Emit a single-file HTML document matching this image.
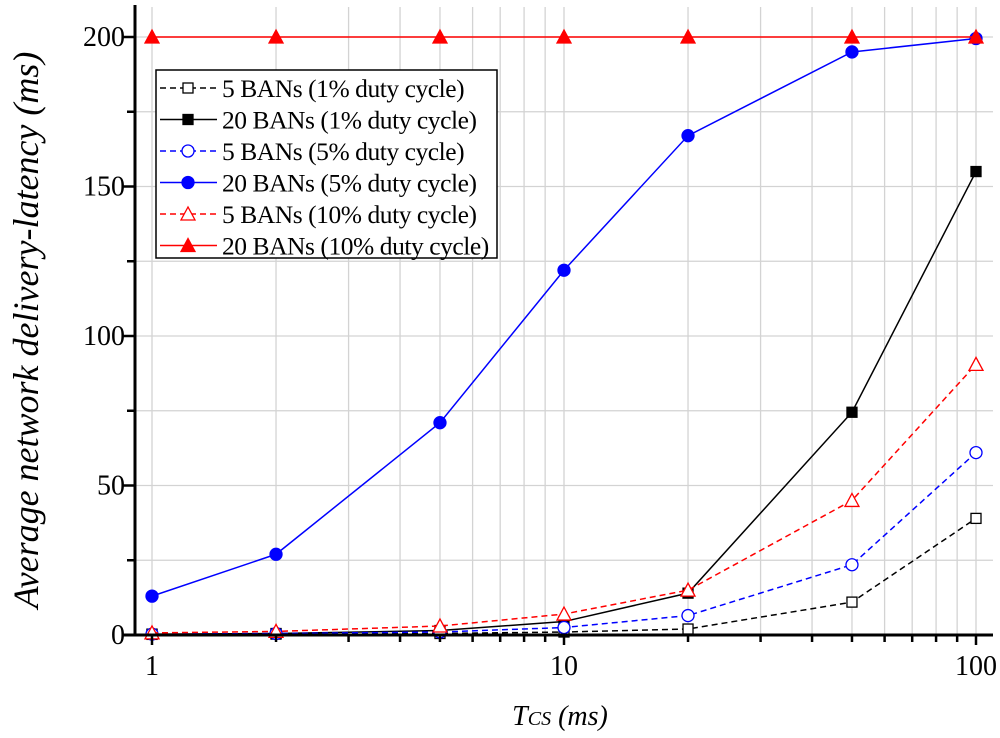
<!DOCTYPE html>
<html><head><meta charset="utf-8"><style>
html,body{margin:0;padding:0;background:#fff;}
svg{display:block;font-family:"Liberation Serif",serif;}
</style></head><body>
<svg id="chart" width="1000" height="738" viewBox="0 0 1000 738" xmlns="http://www.w3.org/2000/svg">
<g id="grid"></g>
<g id="series"></g>
<g id="axes"></g>
<text x="560" y="725" text-anchor="middle" font-size="28" font-style="italic">T<tspan font-size="20">CS</tspan> (ms)</text>
<text transform="translate(38,330) rotate(-90)" text-anchor="middle" font-size="36" font-style="italic">Average network delivery-latency (ms)</text>
<g id="legend"></g>
</svg>
<script>
const xValues=[1,2,5,10,20,50,100];
const s1=[0.2,0.3,0.5,1,2,11,39];
const s2=[0.3,0.5,1.5,4.5,14,74.5,155];
const s3=[0.3,0.5,1,2.5,6.5,23.5,61];
const s4=[13,27,71,122,167,195,199.5];
const s5=[0.7,1.2,3,7,15,45,90.5];
const s6=[200,200,200,200,200,200,200];
const seriesNames=["5 BANs (1% duty cycle)","20 BANs (1% duty cycle)","5 BANs (5% duty cycle)","20 BANs (5% duty cycle)","5 BANs (10% duty cycle)","20 BANs (10% duty cycle)"];
const yTicks=[0,50,100,150,200];
const xTicks=[1,10,100];

const NS="http://www.w3.org/2000/svg";
const X0=135,X1=993,Y0=635,Y1=7;
function xs(v){return 152+412*Math.log10(v);}
function ys(v){return 635-v*2.99;}
function mk(tag,attrs,parent){const e=document.createElementNS(NS,tag);for(const k in attrs)e.setAttribute(k,attrs[k]);parent.appendChild(e);return e;}
const grid=document.getElementById('grid'),axes=document.getElementById('axes'),ser=document.getElementById('series'),leg=document.getElementById('legend');
for(let v=25;v<=225;v+=25){const y=ys(v);if(y<Y1)break;const l=mk('line',{x1:X0,x2:X1,y1:y,y2:y,stroke:'#d3d3d3','stroke-width':1.3},grid);

}
for(let d=1;d<=100;d*=10){for(let m=1;m<10;m++){const v=d*m;if(v>100)break;const x=xs(v);const l=mk('line',{x1:x,x2:x,y1:Y1,y2:Y0,stroke:'#d3d3d3','stroke-width':1.3},grid);


const t=mk('line',{x1:x,x2:x,y1:Y0,y2:Y0+(m===1?10:7),stroke:'#000','stroke-width':2.5},axes);

}}
const ya=mk('line',{x1:X0,x2:X0,y1:Y1-2,y2:Y0+1,stroke:'#000','stroke-width':3},axes);


const xa=mk('line',{x1:X0-12,x2:X1,y1:Y0,y2:Y0,stroke:'#000','stroke-width':3},axes);


for(let v=0;v<=200;v+=25){const y=ys(v);const t=mk('line',{x1:X0-(v%50===0?12:8),x2:X0,y1:y,y2:y,stroke:'#000','stroke-width':2.5},axes);

}
yTicks.forEach(v=>{const t=mk('text',{x:X0-10,y:ys(v)+9,'text-anchor':'end','font-size':28},axes);t.textContent=v;

});
xTicks.forEach(v=>{const t=mk('text',{x:xs(v),y:Y0+40,'text-anchor':'middle','font-size':28},axes);t.textContent=v;

});
function marker(type,color,fill,x,y,parent){
 let e;
 if(type==='sq')e=mk('rect',{x:x-5,y:y-5,width:10,height:10},parent);
 else if(type==='ci')e=mk('circle',{cx:x,cy:y,r:6},parent);
 else e=mk('polygon',{points:`${x},${y-7} ${x-7},${y+6} ${x+7},${y+6}`},parent);
 e.setAttribute('fill',fill?color:'#fff');e.setAttribute('stroke',color);e.setAttribute('stroke-width',1.3);
 return e;
}
const defs=[[s1,'#000',true,'sq',false],[s2,'#000',false,'sq',true],[s3,'#00f',true,'ci',false],[s4,'#00f',false,'ci',true],[s5,'#f00',true,'tr',false],[s6,'#f00',false,'tr',true]];
const lb=mk('rect',{x:156,y:70,width:341,height:188,fill:'#fff'},leg);


defs.forEach((d,i)=>{const [vals,col,dash,mt,fill]=d;
 const g=mk('g',{},ser);
 
 
 const p=mk('polyline',{points:vals.map((v,j)=>xs(xValues[j])+','+ys(v)).join(' '),fill:'none',stroke:col,'stroke-width':1.5,'stroke-dasharray':dash?'6,4':'none'},g);
 
 
 vals.forEach((v,j)=>{const m=marker(mt,col,fill,xs(xValues[j]),ys(v),g);
 
 });
 const ly=88+i*31.5;
 const ll=mk('line',{x1:160,x2:217,y1:ly,y2:ly,stroke:col,'stroke-width':1.5,'stroke-dasharray':dash?'6,4':'none'},leg);
 
 
 const lm=marker(mt,col,fill,188,ly,leg);
 
 
 const lt=mk('text',{x:222,y:ly+9,'font-size':25.5,'letter-spacing':-0.45},leg);lt.textContent=seriesNames[i];
 
 
});
const box=mk('rect',{x:156,y:70,width:341,height:188,fill:'none',stroke:'#000','stroke-width':1.5},leg);


</script>
</body></html>
